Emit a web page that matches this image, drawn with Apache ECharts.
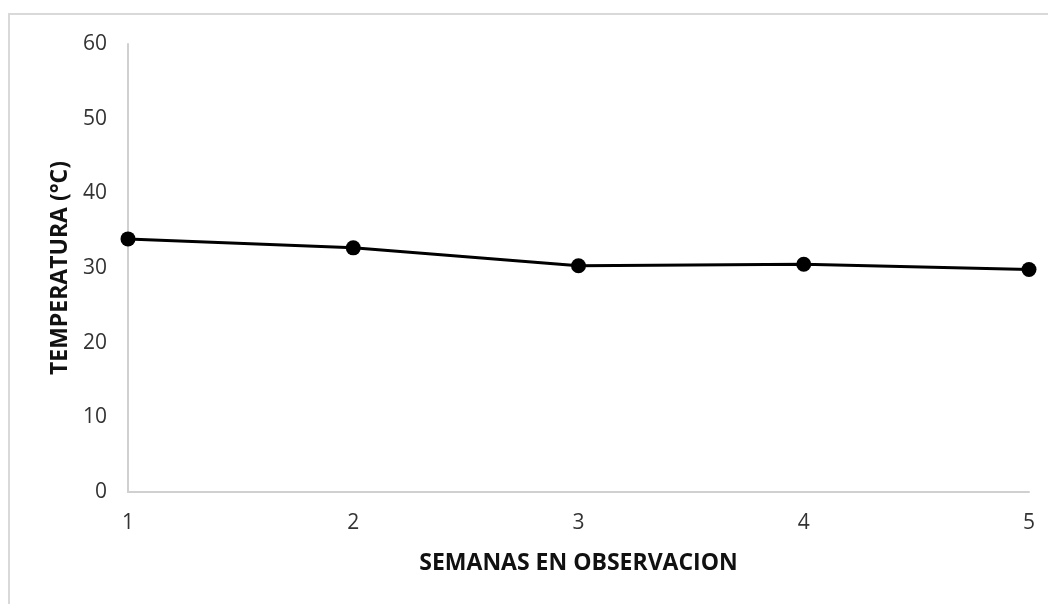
<!DOCTYPE html>
<html>
<head>
<meta charset="utf-8">
<script src="https://cdn.jsdelivr.net/npm/echarts@6/dist/echarts.min.js"></script>
<style>
  html, body { margin: 0; padding: 0; background: #fff; }
  #frame {
    position: absolute; left: 8px; top: 13px; width: 1060px; height: 620px;
    border: 2px solid #d9d9d9; box-sizing: border-box;
  }
  #chart { position: absolute; left: 0; top: 0; width: 1048px; height: 604px; }
</style>
</head>
<body>
<div id="frame"></div>
<div id="chart"></div>
<script>
// semanas y temperatura medida
const semanas = ['1', '2', '3', '4', '5']
const temperatura = [33.9, 32.7, 30.3, 30.5, 29.8]
const yTicks = { min: 0, max: 60, interval: 10 }

const chart = echarts.init(document.getElementById('chart'))
const fontFam = '"Open Sans", "Noto Sans", sans-serif'
chart.setOption({
  animation: false,
  grid: { left: 128, right: 19, top: 44, bottom: 112 },
  xAxis: {
    type: 'category',
    data: semanas,
    boundaryGap: false,
    name: 'SEMANAS EN OBSERVACION',
    nameLocation: 'middle',
    nameGap: 60,
    nameTextStyle: { color: '#111', fontSize: 23, fontWeight: 'bold', fontFamily: fontFam },
    axisLine: { lineStyle: { color: '#d0d0d0', width: 2 } },
    axisTick: { show: false },
    axisLabel: { color: '#333', fontSize: 21, fontFamily: fontFam, margin: 21 },
    splitLine: { show: false }
  },
  yAxis: {
    type: 'value',
    min: yTicks.min,
    max: yTicks.max,
    interval: yTicks.interval,
    name: 'TEMPERATURA (°C)',
    nameLocation: 'middle',
    nameGap: 53,
    nameRotate: 90,
    nameTextStyle: { color: '#111', fontSize: 23, fontWeight: 'bold', fontFamily: fontFam },
    axisLine: { show: true, lineStyle: { color: '#d0d0d0', width: 2 } },
    axisTick: { show: false },
    axisLabel: { color: '#333', fontSize: 21, fontFamily: fontFam, margin: 21 },
    splitLine: { show: false }
  },
  series: [
    {
      type: 'line',
      data: temperatura,
      symbol: 'circle',
      symbolSize: 15,
      lineStyle: { color: '#000', width: 3 },
      itemStyle: { color: '#000' }
    }
  ]
})
</script>
</body>
</html>
